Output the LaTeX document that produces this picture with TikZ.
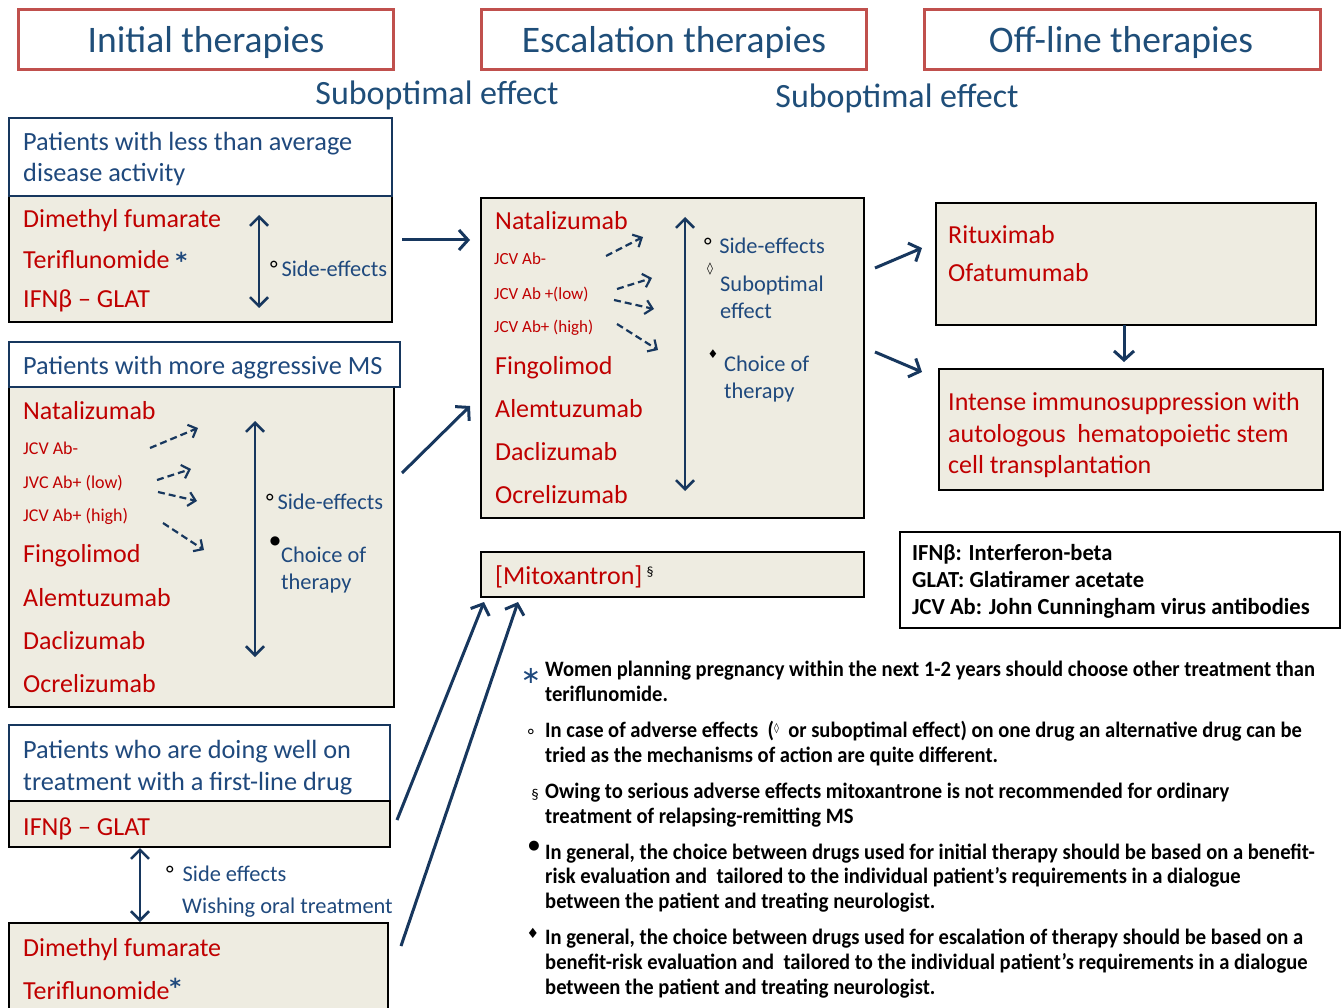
\documentclass[tikz,border=0pt]{standalone}
\usepackage{fontspec}
\setmainfont{Carlito}
\newfontfamily\symfont{DejaVu Sans}
\newfontfamily\notefont[FakeStretch=0.935]{Carlito}
\newfontfamily\legfont[FakeStretch=0.98]{Carlito}
\usetikzlibrary{arrows.meta}
\definecolor{navy}{HTML}{1F497D}
\definecolor{darknavy}{HTML}{17375E}
\definecolor{drugred}{HTML}{C00000}
\definecolor{boxred}{HTML}{C0504D}
\definecolor{beige}{HTML}{EEECE1}
\definecolor{titleblue}{HTML}{1F4E79}
\newcommand{\fs}[1]{\fontsize{#1}{#1}\selectfont}
\newcommand{\bigast}{{\symfont\bfseries\fs{22}*}}
\tikzset{
  titlebox/.style={draw=boxred, line width=3pt, minimum height=60pt, inner sep=0pt, text=titleblue, font=\fs{37.5}},
  headbox/.style={draw=darknavy, line width=2.5pt, fill=white, inner sep=0pt},
  drugbox/.style={draw=black, line width=2pt, fill=beige, inner sep=0pt},
  txt/.style={anchor=base west, inner sep=0pt, text=navy, font=\fs{26.3}},
  drug/.style={anchor=base west, inner sep=0pt, text=drugred, font=\fs{26}},
  small/.style={anchor=base west, inner sep=0pt, text=drugred, font=\fs{18}},
  note/.style={anchor=base west, inner sep=0pt, text=navy, font=\fs{22.4}},
  foot/.style={anchor=base west, inner sep=0pt, text=black, font=\notefont\bfseries\fs{22}},
  legtext/.style={anchor=base west, inner sep=0pt, text=black, font=\legfont\bfseries\fs{23}},
  glyph/.style={inner sep=0pt},
  bigarrow/.style={draw=darknavy, line width=3pt, -{Straight Barb[length=9pt,width=20pt]}},
  dblarrow/.style={draw=darknavy, line width=2.5pt, {Straight Barb[length=9pt,width=18pt]}-{Straight Barb[length=9pt,width=18pt]}},
  dasharrow/.style={draw=darknavy, line width=2.2pt, dash pattern=on 7pt off 4pt, -{Straight Barb[length=7pt,width=14pt]}},
}
\begin{document}
\begin{tikzpicture}[x=1pt,y=-1pt]
\clip (0,0) rectangle (1341,1008);
\useasboundingbox (0,0) rectangle (1341,1008);
\fill[white] (0,0) rectangle (1341,1008);

% titles
\node[titlebox, minimum width=375pt] (t1) at (205.5,40) {};
\node[titlebox, minimum width=385pt] (t2) at (673.5,40) {};
\node[titlebox, minimum width=396pt] (t3) at (1122,40) {};
\node[inner sep=0pt, text=titleblue, font=\fs{37.5}] (t1t) at (206,43) {Initial therapies};
\node[inner sep=0pt, text=titleblue, font=\fs{37.5}] (t2t) at (674,43) {Escalation therapies};
\node[inner sep=0pt, text=titleblue, font=\fs{37.5}] (t3t) at (1121,43) {Off-line therapies};
\node[inner sep=0pt, text=titleblue, font=\fs{34}] (s1) at (437,95) {Suboptimal effect};
\node[inner sep=0pt, text=titleblue, font=\fs{34}] (s2) at (897,98) {Suboptimal effect};

% box 1
\node[drugbox, minimum width=383pt, minimum height=126pt] (b1) at (200.5,259) {};
\node[headbox, minimum width=383pt, minimum height=78pt] (b1h) at (200.5,157) {};
\node[txt] (b1h1) at (23,151) {Patients with less than average};
\node[txt] (b1h2) at (23,182) {disease activity};
\node[drug] (b1d1) at (23,228) {Dimethyl fumarate};
\node[drug] (b1d2) at (23,269) {Teriflunomide \textcolor{navy}{\bigast}};
\node[drug] (b1d3) at (23,308) {IFNβ – GLAT};
\coordinate (d1a) at (259,215); \coordinate (d1b) at (259,308);
\draw[dblarrow] (d1a) -- (d1b);
\node[note] (b1n) at (270,277) {\textcolor{black}{°}\,Side-effects};

% box 2
\node[drugbox, minimum width=385pt, minimum height=320pt] (b2) at (201.5,547) {};
\node[headbox, minimum width=391pt, minimum height=45pt] (b2h) at (204.5,364.5) {};
\node[txt] (b2h1) at (23,374) {Patients with more aggressive MS};
\node[drug] (b2d1) at (23,419) {Natalizumab};
\node[small] (b2j1) at (23,454) {JCV Ab-};
\node[small] (b2j2) at (23,488) {JVC Ab+ (low)};
\node[small] (b2j3) at (23,521) {JCV Ab+ (high)};
\node[drug] (b2d2) at (23,562) {Fingolimod};
\node[drug] (b2d3) at (23,606) {Alemtuzumab};
\node[drug] (b2d4) at (23,649) {Daclizumab};
\node[drug] (b2d5) at (23,692) {Ocrelizumab};
\coordinate (p1a) at (150,448); \coordinate (p1b) at (198,428);
\coordinate (p2a) at (157,480); \coordinate (p2b) at (191,469);
\coordinate (p3a) at (158,492); \coordinate (p3b) at (197,501);
\coordinate (p4a) at (163,523); \coordinate (p4b) at (204,550);
\draw[dasharrow] (p1a) -- (p1b);
\draw[dasharrow] (p2a) -- (p2b);
\draw[dasharrow] (p3a) -- (p3b);
\draw[dasharrow] (p4a) -- (p4b);
\coordinate (d2a) at (255,421); \coordinate (d2b) at (255,657);
\draw[dblarrow] (d2a) -- (d2b);
\node[note] (b2n1) at (266,509) {\textcolor{black}{°}\,Side-effects};
\node[glyph, font=\symfont\fs{12}] (b2m) at (275,541) {●};
\node[note] (b2n2) at (281,562) {Choice of};
\node[note] (b2n3) at (281,589) {therapy};

% box 3 / 4
\node[headbox, minimum width=381pt, minimum height=76pt] (b3h) at (199.5,763) {};
\node[drugbox, line width=2.5pt, minimum width=381pt, minimum height=46pt] (b3) at (199.5,824) {};
\node[txt] (b3h1) at (23,758) {Patients who are doing well on};
\node[txt] (b3h2) at (23,790) {treatment with a first-line drug};
\node[drug] (b3d1) at (23,835) {IFNβ – GLAT};
\node[drugbox, minimum width=379pt, minimum height=96pt] (b4) at (198.5,971) {};
\node[drug] (b4d1) at (23,956) {Dimethyl fumarate};
\node[drug] (b4d2) at (23,999) {Teriflunomide\textcolor{navy}{\raisebox{5pt}{\bigast}}};
\coordinate (d3a) at (140,848); \coordinate (d3b) at (140,922);
\draw[dblarrow] (d3a) -- (d3b);
\node[note] (b3n1) at (166,881) {\textcolor{black}{°}\, Side effects};
\node[note] (b3n2) at (182,913) {Wishing oral treatment};

% middle escalation box
\node[drugbox, minimum width=383pt, minimum height=320pt] (mid) at (672.5,358) {};
\node[drug] (md1) at (495,230) {Natalizumab};
\node[small, font=\fs{17}] (mj1) at (494,265) {JCV Ab-};
\node[small, font=\fs{17}] (mj2) at (494,299) {JCV Ab +(low)};
\node[small, font=\fs{17}] (mj3) at (494,332) {JCV Ab+ (high)};
\node[drug] (md2) at (495,374) {Fingolimod};
\node[drug] (md3) at (495,417) {Alemtuzumab};
\node[drug] (md4) at (495,460) {Daclizumab};
\node[drug] (md5) at (495,503) {Ocrelizumab};
\coordinate (q1a) at (606,256); \coordinate (q1b) at (643,237);
\coordinate (q2a) at (617,289); \coordinate (q2b) at (652,278);
\coordinate (q3a) at (614,300); \coordinate (q3b) at (654,309);
\coordinate (q4a) at (617,324); \coordinate (q4b) at (658,350);
\draw[dasharrow] (q1a) -- (q1b);
\draw[dasharrow] (q2a) -- (q2b);
\draw[dasharrow] (q3a) -- (q3b);
\draw[dasharrow] (q4a) -- (q4b);
\coordinate (d4a) at (685,217); \coordinate (d4b) at (685,491);
\draw[dblarrow] (d4a) -- (d4b);
\node[note] (mn1) at (704,254) {\textcolor{black}{°}\,\,Side-effects};
\node[glyph, font=\symfont\fs{12}] (mm2) at (710,269) {◊};
\node[note] (mn2) at (720,292) {Suboptimal};
\node[note] (mn3) at (720,319) {effect};
\node[glyph, font=\symfont\fs{12}] (mm3) at (713,354) {♦};
\node[note] (mn4) at (724,371) {Choice of};
\node[note] (mn5) at (724,398) {therapy};

% mitoxantron
\node[drugbox, minimum width=383pt, minimum height=45pt] (mito) at (672.5,574.5) {};
\node[drug] (mitot) at (495,584) {[Mitoxantron]\,\textcolor{black}{\raisebox{8pt}{\fs{14}§}}};

% off-line boxes
\node[drugbox, minimum width=380pt, minimum height=122pt] (ritu) at (1126,264) {};
\node[drug] (r1) at (948,244) {Rituximab};
\node[drug] (r2) at (948,282) {Ofatumumab};
\node[drugbox, minimum width=384pt, minimum height=121pt] (hsct) at (1131,429.5) {};
\node[drug] (h1) at (948,410) {Intense immunosuppression with};
\node[drug] (h2) at (948,442) {autologous\ \ hematopoietic stem};
\node[drug] (h3) at (948,473) {cell transplantation};

% legend
\node[draw=black, line width=1.5pt, fill=white, minimum width=440pt, minimum height=96pt] (leg) at (1120,580) {};
\node[legtext] (l1) at (912,560) {IFNβ: Interferon-beta};
\node[legtext] (l2) at (912,587) {GLAT: Glatiramer acetate};
\node[legtext] (l3) at (912,614) {JCV Ab: John Cunningham virus antibodies};

% big arrows
\coordinate (a1s) at (402,240); \coordinate (a1e) at (470,240);
\coordinate (a2s) at (402,473); \coordinate (a2e) at (470,406);
\coordinate (a3s) at (397,820); \coordinate (a3e) at (484,602);
\coordinate (a4s) at (401,946); \coordinate (a4e) at (518,602);
\coordinate (a5s) at (875,268); \coordinate (a5e) at (922,248);
\coordinate (a6s) at (875,352); \coordinate (a6e) at (922,372);
\coordinate (a7s) at (1124,325); \coordinate (a7e) at (1124,362);
\draw[bigarrow] (a1s) -- (a1e);
\draw[bigarrow] (a2s) -- (a2e);
\draw[bigarrow] (a3s) -- (a3e);
\draw[bigarrow] (a4s) -- (a4e);
\draw[bigarrow] (a5s) -- (a5e);
\draw[bigarrow] (a6s) -- (a6e);
\draw[bigarrow] (a7s) -- (a7e);

% footnotes
\node[anchor=base, inner sep=0pt, text=navy, font=\symfont\fs{24}] (m1) at (531,683) {∗};
\node[foot] (f11) at (545,676) {Women planning pregnancy within the next 1-2 years should choose other treatment than};
\node[foot] (f12) at (545,701) {teriflunomide.};
\node[anchor=base, inner sep=0pt, font=\fs{18}] (m2) at (531,741) {°};
\node[foot] (f21) at (545,737) {In case of adverse effects\ \ (\raisebox{6pt}{\symfont\fs{10}◊}\ \ or suboptimal effect) on one drug an alternative drug can be};
\node[foot] (f22) at (545,762) {tried as the mechanisms of action are quite different.};
\node[anchor=base, inner sep=0pt, font=\fs{15}] (m3) at (535,799) {§};
\node[foot] (f31) at (545,798) {Owing to serious adverse effects mitoxantrone is not recommended for ordinary};
\node[foot] (f32) at (545,823) {treatment of relapsing-remitting MS};
\node[glyph, font=\symfont\fs{13}] (m4) at (534,846) {●};
\node[foot] (f41) at (545,859) {In general, the choice between drugs used for initial therapy should be based on a benefit-};
\node[foot] (f42) at (545,883) {risk evaluation and\ \ tailored to the individual patient’s requirements in a dialogue};
\node[foot] (f43) at (545,908) {between the patient and treating neurologist.};
\node[glyph, font=\symfont\fs{14}] (m5) at (533,933) {♦};
\node[foot] (f51) at (545,944) {In general, the choice between drugs used for escalation of therapy should be based on a};
\node[foot] (f52) at (545,969) {benefit-risk evaluation and\ \ tailored to the individual patient’s requirements in a dialogue};
\node[foot] (f53) at (545,994) {between the patient and treating neurologist.};
\end{tikzpicture}
\end{document}
